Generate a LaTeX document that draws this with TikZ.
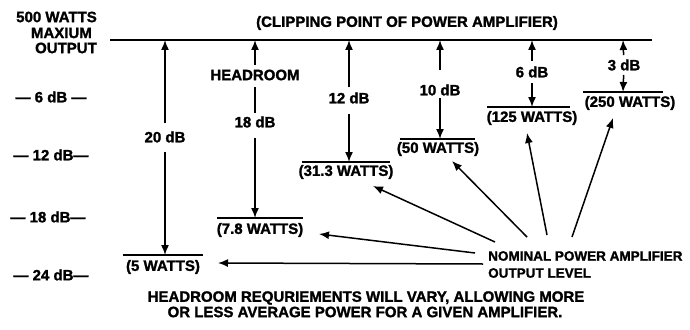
\documentclass[tikz,border=0pt]{standalone}
\usepackage{fontspec}
\setmainfont[BoldFeatures={FakeBold=1.5}]{Liberation Sans}
\usetikzlibrary{arrows.meta}
\begin{document}
\begin{tikzpicture}[x=1pt,y=-1pt,
  txt/.style={font=\fontsize{15}{17}\selectfont\bfseries, inner sep=0pt},
  smalltxt/.style={font=\fontsize{13.5}{15}\selectfont\bfseries, inner sep=0pt},
  arr/.style={line width=1.5pt, -{Latex[length=10pt,width=8pt]}},
  rule/.style={line width=1.5pt},
  topline/.style={line width=2pt}]
\useasboundingbox (0,0) rectangle (690,329);

% top line
\coordinate (TL) at (110,40);
\coordinate (TR) at (652,40);
\draw[topline] (TL) -- (TR);
\coordinate (t20) at (165,40);
\coordinate (thr) at (255,40);
\coordinate (t12) at (349,40);
\coordinate (t10) at (440,40);
\coordinate (t6) at (532,40);
\coordinate (t3) at (623,40);

% left labels
\node[txt, anchor=east] (m1) at (97,17) {500 WATTS};
\node[txt, anchor=east] (m2) at (92,33) {MAXIUM};
\node[txt, anchor=east] (m3) at (97,48) {OUTPUT};
\node[txt] (s6) at (51,97) {— 6 dB —};
\node[txt] (s12) at (51,155) {— 12 dB—};
\node[txt] (s18) at (48,217) {— 18 dB—};
\node[txt] (s24) at (51,275) {— 24 dB—};

\node[txt] (clip) at (407,23) {(CLIPPING POINT OF POWER AMPLIFIER)};

% 20 dB
\node[txt] (d20) at (165,137) {20 dB};
\coordinate (u5) at (165,255);
\coordinate (u5a) at (123,255);
\coordinate (u5b) at (203,255);
\draw[rule] (u5a) -- (u5b);
\node[txt] (w5) at (163,267) {(5 WATTS)};
\draw[arr, shorten <=14pt] (d20.center) -- (t20);
\draw[arr, shorten <=15pt] (d20.center) -- (u5);

% headroom 18 dB
\node[txt] (hr) at (255,75) {HEADROOM};
\node[txt] (d18) at (255,122) {18 dB};
\coordinate (u78) at (255,218);
\coordinate (u78a) at (217,218);
\coordinate (u78b) at (303,218);
\draw[rule] (u78a) -- (u78b);
\node[txt] (w78) at (260,230) {(7.8 WATTS)};
\draw[arr, shorten <=10pt] (hr.center) -- (thr);
\draw[rule, shorten <=12pt, shorten >=9pt] (hr.center) -- (d18.center);
\draw[arr, shorten <=16pt] (d18.center) -- (u78);

% 12 dB
\node[txt] (d12) at (349,98) {12 dB};
\coordinate (u313) at (349,162);
\coordinate (u313a) at (302,162);
\coordinate (u313b) at (390,162);
\draw[rule] (u313a) -- (u313b);
\node[txt] (w313) at (346,172) {(31.3 WATTS)};
\draw[arr, shorten <=11pt] (d12.center) -- (t12);
\draw[arr, shorten <=16pt] (d12.center) -- (u313);

% 10 dB
\node[txt] (d10) at (440,90) {10 dB};
\coordinate (u50) at (440,139);
\coordinate (u50a) at (400,139);
\coordinate (u50b) at (475,139);
\draw[rule] (u50a) -- (u50b);
\node[txt] (w50) at (438,149) {(50 WATTS)};
\draw[arr, shorten <=20pt] (d10.center) -- (t10);
\draw[arr, shorten <=8pt] (d10.center) -- (u50);

% 6 dB
\node[txt] (d6) at (532,72) {6 dB};
\coordinate (u125) at (532,107);
\coordinate (u125a) at (487,107);
\coordinate (u125b) at (570,107);
\draw[rule] (u125a) -- (u125b);
\node[txt] (w125) at (532,118) {(125 WATTS)};
\draw[arr, shorten <=11pt] (d6.center) -- (t6);
\draw[arr, shorten <=11pt] (d6.center) -- (u125);

% 3 dB
\node[txt] (d3) at (624,65) {3 dB};
\coordinate (u250) at (623,92);
\coordinate (u250a) at (583,92);
\coordinate (u250b) at (663,92);
\draw[rule] (u250a) -- (u250b);
\node[txt] (w250) at (630,103) {(250 WATTS)};
\draw[arr, shorten <=10pt] (d3.center) -- (t3);
\draw[arr, shorten <=10pt] (d3.center) -- (u250);

% nominal level
\node[smalltxt, anchor=west] (nom) at (488,256) {NOMINAL POWER AMPLIFIER};
\node[smalltxt, anchor=west] (outl) at (488,273) {OUTPUT LEVEL};

\coordinate (a1s) at (572,237); \coordinate (a1e) at (613,118);
\coordinate (a2s) at (547,235); \coordinate (a2e) at (527,133);
\coordinate (a3s) at (527,237); \coordinate (a3e) at (452,161);
\coordinate (a4s) at (495,242); \coordinate (a4e) at (373,186);
\coordinate (a5s) at (475,253); \coordinate (a5e) at (319,234);
\coordinate (a6s) at (483,264); \coordinate (a6e) at (218,263);
\foreach \i in {1,...,6} \draw[arr] (a\i s) -- (a\i e);

% bottom caption
\node[txt] (b1) at (366,298) {HEADROOM REQURIEMENTS WILL VARY, ALLOWING MORE};
\node[txt] (b2) at (365,312) {OR LESS AVERAGE POWER FOR A GIVEN AMPLIFIER.};
\end{tikzpicture}
\end{document}
